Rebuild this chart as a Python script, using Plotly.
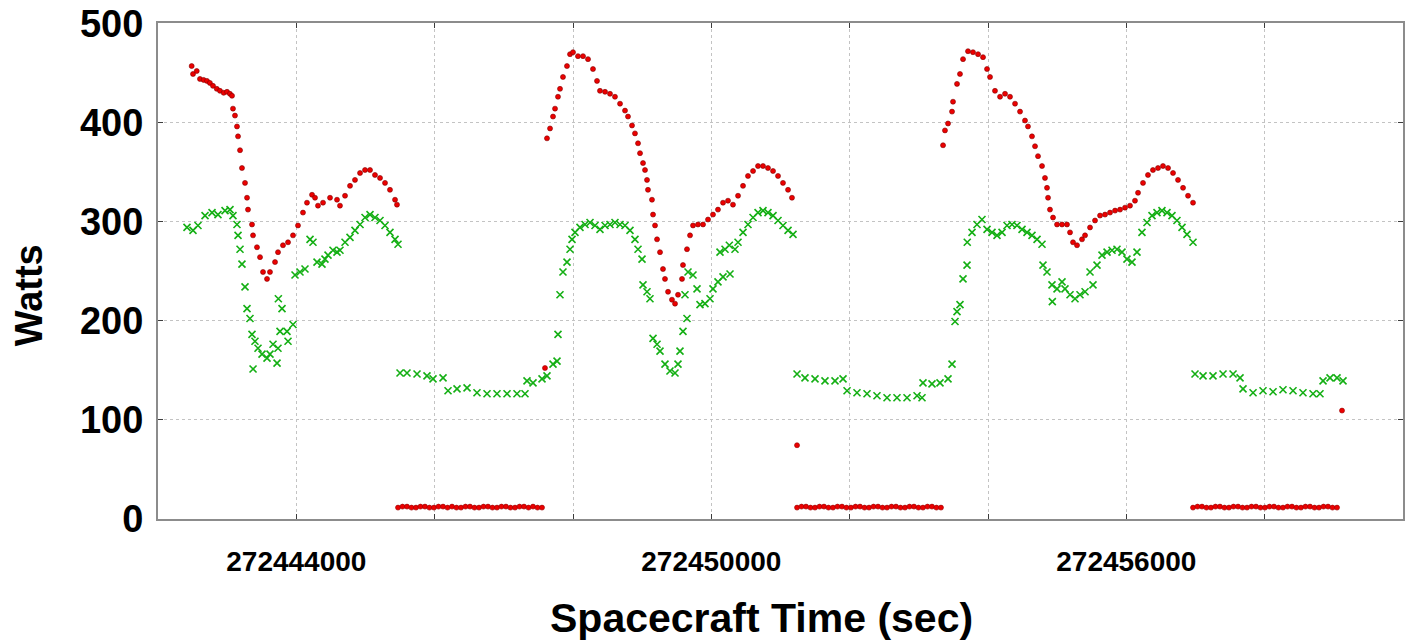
import numpy as np
import plotly.graph_objects as go

# Spacecraft clock reference: sample times below are seconds after this epoch
T0 = 272442000

# Solar array output power (W) - sunlit arcs
array_t = [
    487, 506, 560, 607, 660, 708, 750, 795, 850, 896, 950, 998, 1040, 1070,
    1084, 1113, 1142, 1157, 1186, 1214, 1258, 1287, 1301, 1359, 1374, 1431,
    1475, 1518, 1576, 1619, 1692, 1735, 1807, 1880, 1952, 2024, 2096, 2154,
    2227, 2270, 2313, 2386, 2487, 2588, 2631, 2704, 2776, 2848, 2921, 2993,
    3065, 3137, 3210, 3282, 3354, 3427, 3455,
    5624, 5668, 5711, 5740, 5783, 5812, 5855, 5913, 5957, 6000, 6072, 6145,
    6217, 6289, 6347, 6390, 6463, 6535, 6607, 6680, 6752, 6795, 6853, 6896,
    6940, 6969, 7012, 7041, 7070, 7084, 7142, 7157, 7186, 7215, 7258, 7301,
    7330, 7374, 7431, 7475, 7518, 7576, 7590, 7648, 7692, 7735, 7807, 7880,
    7952, 8024, 8096, 8169, 8241, 8313, 8386, 8458, 8530, 8603, 8675, 8747,
    8819, 8892, 8964, 9036, 9109, 9166,
    11350, 11378, 11422, 11480, 11494, 11552, 11595, 11639, 11711, 11783,
    11856, 11928, 11986, 12029, 12101, 12174, 12246, 12318, 12391, 12463,
    12535, 12578, 12636, 12680, 12723, 12781, 12824, 12853, 12868, 12896,
    12940, 12998, 13070, 13142, 13186, 13229, 13287, 13359, 13403, 13475,
    13547, 13620, 13692, 13764, 13837, 13909, 13981, 14053, 14125, 14169,
    14241, 14313, 14385, 14458, 14530, 14603, 14675, 14747, 14820, 14892,
    14964,
]
array_w = [
    457, 449, 452, 444, 443, 442, 440, 437, 434, 432, 430, 431, 429, 427,
    414, 407, 396, 386, 372, 354, 339, 324, 312, 297, 286, 274,
    264, 249, 242, 249, 259, 269, 276, 279, 286, 296, 309, 319,
    327, 324, 316, 319, 324, 322, 316, 326, 336, 342, 349, 352,
    352, 347, 344, 339, 332, 322, 317,
    384, 394, 406, 414, 426, 434, 446, 457, 469, 471, 467, 467,
    464, 454, 442, 432, 431, 429, 426, 419, 412, 406, 397, 389,
    379, 369, 359, 352, 342, 332, 322, 307, 296, 282, 269, 252,
    242, 229, 221, 217, 226, 242, 256, 272, 286, 296, 297, 297,
    302, 307, 312, 319, 321, 317, 326, 336, 346, 351, 356, 356,
    354, 351, 346, 339, 332, 324,
    377, 392, 399, 411, 421, 439, 449, 464, 472, 471,
    469, 466, 454, 446, 432, 426, 429, 426, 419, 411,
    402, 396, 386, 376, 366, 356, 344, 334, 324, 312,
    304, 297, 297, 297, 289, 279, 276, 282, 286, 294,
    301, 306, 307, 309, 311, 312, 314, 316, 321, 329,
    339, 347, 352, 354, 356, 354, 349, 342, 334, 326,
    319,
]

# Solar array output power (W) - eclipse arcs
eclipse_array_t = [
    3470, 3535, 3600, 3665, 3730, 3795, 3860, 3925, 3990, 4055, 4121, 4186,
    4251, 4316, 4381, 4446, 4511, 4576, 4641, 4706, 4771, 4836, 4901, 4966,
    5031, 5096, 5162, 5227, 5292, 5357, 5422, 5487, 5552, 5595,
    9239, 9239, 9304, 9369, 9434, 9499, 9564, 9629, 9694, 9759, 9824, 9889,
    9954, 10019, 10085, 10150, 10215, 10280, 10345, 10410, 10475, 10540,
    10605, 10670, 10735, 10800, 10865, 10930, 10995, 11060, 11125, 11190,
    11255, 11320,
    14964, 15029, 15094, 15159, 15224, 15289, 15354, 15419, 15484, 15549,
    15615, 15680, 15745, 15810, 15875, 15940, 16005, 16070, 16135, 16200,
    16265, 16330, 16395, 16460, 16525, 16590, 16656, 16721, 16786, 16851,
    16916, 16981, 17046, 17118,
]
eclipse_array_w = [
    11, 12, 12, 11, 11, 12, 12, 11, 11, 12, 12, 11,
    12, 11, 11, 12, 12, 11, 11, 12, 12, 11, 11, 12,
    12, 11, 11, 12, 12, 11, 12, 11, 11, 152,
    74, 11, 12, 12, 11, 11, 12, 12, 11, 11, 12, 12,
    11, 11, 12, 12, 11, 11, 12, 12, 11, 11,
    12, 12, 11, 11, 12, 12, 11, 11, 12, 12,
    11, 11,
    11, 12, 12, 11, 11, 12, 12, 11, 11, 12,
    12, 11, 11, 12, 12, 11, 11, 12, 12, 11,
    11, 12, 12, 11, 11, 12, 12, 11, 11, 12,
    12, 11, 11, 109,
]

# Spacecraft load power (W)
load_t = [
    419, 506, 578, 680, 781, 867, 969, 1041, 1084, 1142, 1157, 1186, 1214,
    1258, 1287, 1330, 1359, 1374, 1402, 1446, 1504, 1576, 1619, 1663, 1721,
    1735, 1764, 1740, 1793, 1865, 1880, 1952, 1981, 2053, 2125, 2198, 2241,
    2299, 2371, 2414, 2458, 2530, 2588, 2631, 2704, 2776, 2848, 2921, 2993,
    3065, 3137, 3210, 3282, 3354, 3427, 3470,
    3499, 3600, 3745, 3889, 3976, 4121, 4193, 4323, 4468, 4612, 4757, 4901,
    5046, 5190, 5306, 5335, 5422, 5552, 5624, 5711,
    5769, 5783, 5812, 5855, 5913, 5957, 5986, 6029, 6101, 6174, 6246, 6318,
    6390, 6463, 6535, 6607, 6680, 6752, 6824, 6896, 6940, 6998, 7012, 7070,
    7113, 7157, 7215, 7258, 7330, 7402, 7475, 7518, 7547, 7590, 7648, 7619,
    7663, 7735, 7793, 7836, 7908, 7981, 8024, 8096, 8169, 8270, 8125, 8198,
    8260, 8342, 8386, 8458, 8530, 8603, 8675, 8747, 8819, 8892, 8964, 9036,
    9109, 9181,
    9239, 9354, 9499, 9643, 9788, 9904, 9962, 10106, 10251, 10395, 10540,
    10684, 10829, 10974, 11046, 11060, 11190, 11306, 11422, 11480,
    11523, 11552, 11595, 11639, 11697, 11700, 11769, 11841, 11913, 11986,
    12058, 12130, 12203, 12275, 12347, 12419, 12492, 12564, 12636, 12709,
    12781, 12795, 12853, 12925, 12998, 13070, 13113, 12930, 13186, 13258,
    13330, 13403, 13475, 13518, 13576, 13648, 13721, 13793, 13865, 13937,
    14009, 14082, 14154, 14226, 14299, 14371, 14443, 14515, 14588, 14660,
    14732, 14805, 14877, 14964,
    14993, 15109, 15253, 15398, 15543, 15644, 15687, 15832, 15976, 16121,
    16265, 16410, 16554, 16699, 16800, 16844, 16945, 17046, 17133,
]
load_w = [
    294, 291, 296, 306, 309, 307, 311, 312, 306, 297, 286, 272, 257,
    234, 212, 202, 186, 151, 179, 172, 166, 162, 166, 176, 157,
    172, 189, 222, 212, 189, 179, 196, 246, 249, 252, 282, 279,
    259, 257, 262, 266, 271, 269, 271, 279, 284, 291, 297, 304,
    307, 304, 301, 296, 289, 282, 277,
    147, 147, 146, 144, 141, 142, 129, 131, 132, 127, 126, 126,
    126, 126, 126, 139, 137, 141, 144, 156,
    159, 186, 226, 249, 259, 272, 282, 289, 294, 297, 299, 296,
    292, 296, 297, 299, 297, 296, 291, 282, 272, 262, 236, 229,
    222, 182, 176, 169, 156, 149, 147, 156, 169, 189, 202, 226,
    249, 246, 232, 216, 217, 222, 232, 239, 244, 247, 269, 272,
    276, 272, 279, 289, 297, 304, 309, 311, 309, 306, 301, 296,
    291, 287,
    146, 142, 141, 139, 139, 141, 129, 127, 126, 124, 122,
    122, 122, 124, 122, 137, 136, 137, 141, 156,
    199, 209, 216, 242, 256, 279, 289, 297, 302, 292,
    289, 286, 289, 296, 297, 296, 292, 289, 286, 282,
    277, 256, 249, 236, 232, 239, 232, 219, 226, 222,
    226, 229, 249, 236, 256, 266, 269, 271, 272, 269,
    262, 259, 269, 289, 299, 306, 309, 311, 309, 306,
    301, 294, 287, 279,
    146, 144, 144, 146, 146, 142, 131, 127, 129, 128,
    130, 129, 127, 126, 126, 139, 142, 142, 139,
]

tick_values = [272444000, 272446000, 272448000, 272450000,
               272452000, 272454000, 272456000, 272458000]
tick_labels = ["272444000", "", "", "272450000", "", "", "272456000", ""]
y_ticks = [0, 100, 200, 300, 400, 500]

FONT = "Liberation Sans, Arial, Helvetica, sans-serif"
GREEN = "rgb(20,175,20)"
RED = "rgb(235,0,0)"

fig = go.Figure()

fig.add_trace(go.Scatter(
    x=T0 + np.array(load_t), y=load_w, mode="markers",
    marker=dict(symbol="x-thin", size=7, color=GREEN,
                line=dict(color=GREEN, width=1.6)),
    showlegend=False, hoverinfo="x+y",
))
fig.add_trace(go.Scatter(
    x=T0 + np.array(eclipse_array_t), y=eclipse_array_w, mode="markers",
    marker=dict(symbol="circle", size=5, color=RED,
                line=dict(color="rgb(150,0,0)", width=0.6)),
    showlegend=False, hoverinfo="x+y",
))
fig.add_trace(go.Scatter(
    x=T0 + np.array(array_t), y=array_w, mode="markers",
    marker=dict(symbol="circle", size=5, color=RED,
                line=dict(color="rgb(130,0,0)", width=0.6)),
    showlegend=False, hoverinfo="x+y",
))

axis_common = dict(
    showline=True, mirror="ticks", linecolor="rgb(140,140,140)", linewidth=2,
    showgrid=True, gridcolor="rgb(195,195,195)", griddash="dot", gridwidth=1,
    zeroline=False, ticks="inside", ticklen=5, tickcolor="rgb(60,60,60)",
    ticklabeloverflow="allow", automargin=False,
)

fig.update_xaxes(
    range=[T0, T0 + 18000], tickmode="array",
    tickvals=tick_values, ticktext=tick_labels,
    tickfont=dict(family=FONT, size=28, color="black", weight="bold"),
    ticklabelstandoff=16,
    **axis_common,
)
fig.update_yaxes(
    range=[-0.5, 500.5], tickmode="array", tickvals=y_ticks,
    ticktext=[str(v) for v in y_ticks],
    tickfont=dict(family=FONT, size=38, color="black", weight="bold"),
    ticklabelstandoff=5,
    **axis_common,
)

fig.add_annotation(
    text="Watts", xref="paper", yref="paper", x=-0.104, y=0.45,
    xanchor="center", yanchor="middle", textangle=-90, showarrow=False,
    font=dict(family=FONT, size=38, color="black", weight="bold"),
)
fig.add_annotation(
    text="Spacecraft Time (sec)", xref="paper", yref="paper", x=0.485,
    y=-0.2, xanchor="center", yanchor="middle", showarrow=False,
    font=dict(family=FONT, size=41, color="black", weight="bold"),
)

fig.update_layout(
    width=1413, height=644,
    margin=dict(l=158, r=10, t=23, b=125, autoexpand=False),
    paper_bgcolor="white", plot_bgcolor="white",
)

fig.write_html("out.html")
